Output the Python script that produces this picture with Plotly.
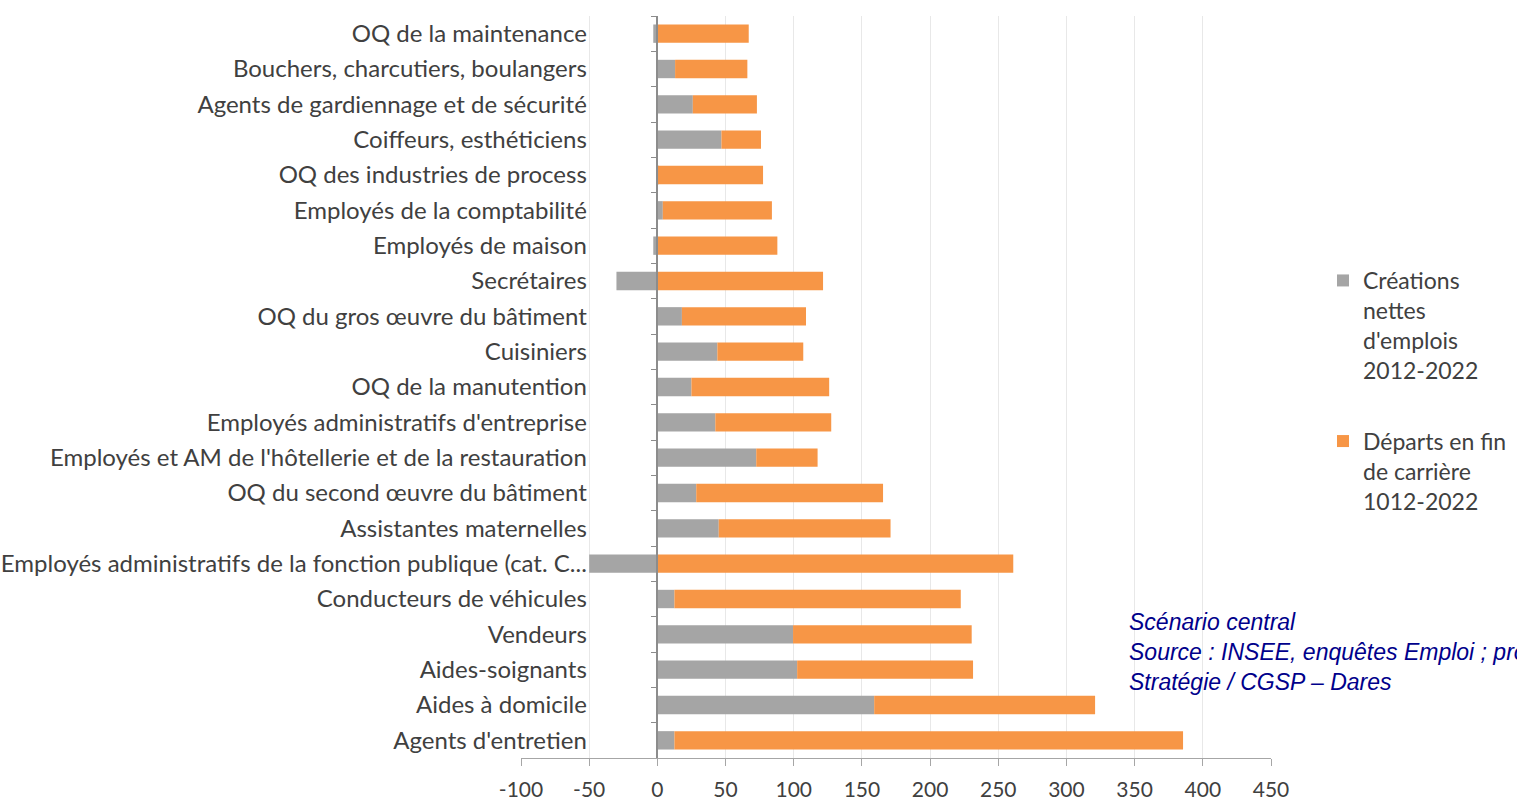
import plotly.graph_objects as go

categories = [
    "OQ de la maintenance",
    "Bouchers, charcutiers, boulangers",
    "Agents de gardiennage et de sécurité",
    "Coiffeurs, esthéticiens",
    "OQ des industries de process",
    "Employés de la comptabilité",
    "Employés de maison",
    "Secrétaires",
    "OQ du gros œuvre du bâtiment",
    "Cuisiniers",
    "OQ de la manutention",
    "Employés administratifs d'entreprise",
    "Employés et AM de l'hôtellerie et de la restauration",
    "OQ du second œuvre du bâtiment",
    "Assistantes maternelles",
    "Employés administratifs de la fonction publique (cat. C...",
    "Conducteurs de véhicules",
    "Vendeurs",
    "Aides-soignants",
    "Aides à domicile",
    "Agents d'entretien",
]

creations = [-3, 13, 26, 47, 0.5, 4, -3, -30, 18, 44, 25, 42.5, 72.5, 28.5, 45, -50, 12.5, 99.5, 102.5, 159, 12.5]
departs = [67, 53, 47, 29, 77, 80, 88, 121.5, 91, 63, 101, 85, 45, 137, 126, 261, 210, 131, 129, 162, 373]

x_ticks = [-100, -50, 0, 50, 100, 150, 200, 250, 300, 350, 400, 450]

name_creations = "Créations<br>nettes<br>d'emplois<br>2012-2022"
name_departs = "Départs en fin<br>de carrière<br>1012-2022"

note_text = ("<i>Scénario central<br>Source : INSEE, enquêtes Emploi ; projections France<br>"
             "Stratégie / CGSP – Dares</i>")

fig = go.Figure()
fig.add_trace(go.Bar(
    y=categories, x=creations, orientation="h", name=name_creations,
    marker=dict(color="#A5A5A5", line=dict(width=0)), legendgroup="a",
))
fig.add_trace(go.Bar(
    y=categories, x=departs, orientation="h", name=name_departs,
    marker=dict(color="#F79646", line=dict(width=0)), legendgroup="b",
))

x0 = x_ticks[0]
x1 = x_ticks[-1]
zero_pos = (0 - x0) / (x1 - x0)

L, R, T, B = 521, 246, 16, 45
PW = 1517 - L - R
PH = 803 - T - B

fig.update_layout(
    barmode="relative",
    bargap=0.48,
    width=1517, height=803,
    margin=dict(l=L, r=R, t=T, b=B, autoexpand=False),
    paper_bgcolor="white", plot_bgcolor="white",
    font=dict(family="Lato, Calibri, sans-serif", size=24, color="#404040"),
    xaxis=dict(
        range=[x0, x1], tickvals=x_ticks, ticktext=[str(v) for v in x_ticks],
        showgrid=True, gridcolor="#E8E8E8", gridwidth=1,
        zeroline=False, showline=True, linecolor="#A6A6A6", linewidth=1,
        ticks="outside", ticklen=7, tickcolor="#A6A6A6",
        ticklabelstandoff=6,
        tickfont=dict(size=21, color="#404040"),
    ),
    yaxis=dict(
        categoryorder="array", categoryarray=categories, autorange="reversed",
        anchor="free", position=zero_pos,
        showline=True, linecolor="#8C8C8C", linewidth=1.5,
        ticks="outside", ticklen=6, tickcolor="#8C8C8C", tickson="boundaries",
        showgrid=False, zeroline=False,
        ticklabelstandoff=65,
        tickfont=dict(size=24, color="#404040"),
    ),
    legend=dict(
        x=(1323 - L) / PW, y=(758 - 259) / PH, xanchor="left", yanchor="top",
        font=dict(size=23, color="#404040"),
        valign="top", tracegroupgap=38, traceorder="grouped",
        itemwidth=30, bgcolor="rgba(0,0,0,0)",
    ),
    annotations=[dict(
        text=note_text, xref="paper", yref="paper",
        x=(1127 - L) / PW, y=(758 - 607) / PH,
        xanchor="left", yanchor="top", align="left", showarrow=False,
        font=dict(family="Liberation Sans, Arial, sans-serif", size=23, color="#00008B"),
    )],
)

fig.write_html("out.html", config={"displayModeBar": False},
               post_script="document.body.style.margin='0';")
